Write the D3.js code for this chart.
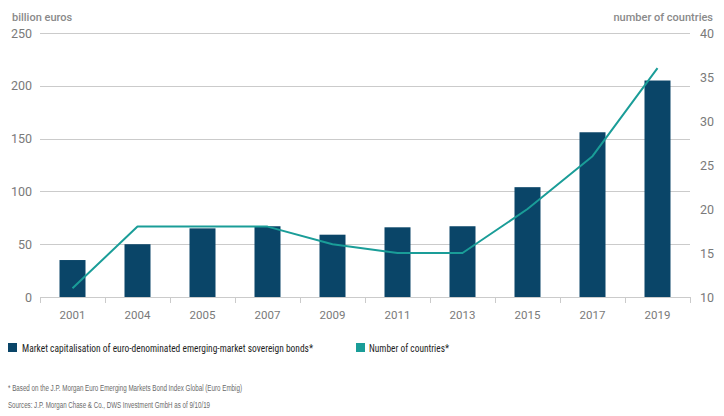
<!DOCTYPE html>
<html>
<head>
<meta charset="utf-8">
<script src="https://cdn.jsdelivr.net/npm/d3@7"></script>
<style>
  html, body { margin: 0; padding: 0; background: #fff; }
  svg { display: block; }
</style>
</head>
<body>
<svg id="chart" width="724" height="416"></svg>
<script>
const years = ["2001","2004","2005","2007","2009","2011","2013","2015","2017","2019"];
const marketCap = [35, 50, 65, 67, 59, 66, 67, 104, 156, 205];
const countries = [11, 18, 18, 18, 16, 15, 15, 20, 26, 36];
const leftTicks = [0, 50, 100, 150, 200, 250];
const rightTicks = [10, 15, 20, 25, 30, 35, 40];
const leftTitle = "billion euros";
const rightTitle = "number of countries";
const legendLabels = ["Market capitalisation of euro-denominated emerging-market sovereign bonds*", "Number of countries*"];
const footnotes = ["* Based on the J.P. Morgan Euro Emerging Markets Bond Index Global (Euro Embig)",
                   "Sources: J.P. Morgan Chase & Co., DWS Investment GmbH as of 9/10/19"];

(function () {
const barColor = "#0a4568";
const lineColor = "#1a9d98";
const gridColor = "#cbcbcb";
const labelColor = "#7a7a7a";
const font = "Roboto, 'Open Sans', sans-serif";

const svg = d3.select("#chart");
const plotLeft = 40, plotRight = 690, plotTop = 33, plotBottom = 297;

const x = d3.scaleBand().domain(years).range([plotLeft, plotRight]).paddingInner(0.6).paddingOuter(0.3);
const yL = d3.scaleLinear().domain([0, 250]).range([plotBottom, plotTop]);
const yR = d3.scaleLinear().domain([10, 40]).range([plotBottom, plotTop]);

// gridlines
svg.append("g").selectAll("line").data(leftTicks).join("line")
  .attr("x1", plotLeft).attr("x2", plotRight)
  .attr("y1", d => Math.round(yL(d)) + 0.5).attr("y2", d => Math.round(yL(d)) + 0.5)
  .attr("stroke", gridColor).attr("stroke-width", 1);

// left tick labels
svg.append("g").selectAll("text").data(leftTicks).join("text")
  .attr("x", 32).attr("y", d => yL(d)).attr("dy", "0.36em")
  .attr("text-anchor", "end").attr("fill", labelColor)
  .attr("font-family", font).attr("font-size", 12.5).text(d => d);

// right tick labels
svg.append("g").selectAll("text").data(rightTicks).join("text")
  .attr("x", 700).attr("y", d => yR(d)).attr("dy", "0.36em")
  .attr("text-anchor", "start").attr("fill", labelColor)
  .attr("font-family", font).attr("font-size", 12.5).text(d => d);

// x category boundary ticks
const gap = x.step() - x.bandwidth();
const bounds = years.map(d => x(d) - gap / 2).concat([x(years[years.length - 1]) + x.bandwidth() + gap / 2]);
svg.append("g").selectAll("line").data(bounds).join("line")
  .attr("x1", d => Math.round(d) + 0.5).attr("x2", d => Math.round(d) + 0.5)
  .attr("y1", plotBottom).attr("y2", plotBottom + 6)
  .attr("stroke", gridColor).attr("stroke-width", 1);

// x labels
svg.append("g").selectAll("text").data(years).join("text")
  .attr("x", d => x(d) + x.bandwidth() / 2).attr("y", 319)
  .attr("text-anchor", "middle").attr("fill", labelColor)
  .attr("font-family", font).attr("font-size", 11.5).text(d => d);

// bars
svg.append("g").selectAll("rect").data(years).join("rect")
  .attr("x", d => x(d)).attr("width", x.bandwidth())
  .attr("y", (d, i) => yL(marketCap[i]))
  .attr("height", (d, i) => yL(0) - yL(marketCap[i]))
  .attr("fill", barColor);

// line
const line = d3.line()
  .x((d, i) => x(years[i]) + x.bandwidth() / 2)
  .y(d => yR(d))
  .curve(d3.curveLinear);
svg.append("path").datum(countries)
  .attr("d", line).attr("fill", "none")
  .attr("stroke", lineColor).attr("stroke-width", 2)
  .attr("stroke-linejoin", "round");

// axis titles
svg.append("text").attr("x", 12).attr("y", 21)
  .attr("fill", "#8a8a8a").attr("font-family", font).attr("font-size", 11)
  .attr("font-weight", 500).text(leftTitle);
svg.append("text").attr("x", 713).attr("y", 21).attr("text-anchor", "end")
  .attr("fill", "#8a8a8a").attr("font-family", font).attr("font-size", 11)
  .attr("font-weight", 500).text(rightTitle);

// legend
const legendFont = "'Liberation Sans Narrow', 'Roboto Condensed', 'Liberation Sans', sans-serif";
const legendItems = [
  {label: legendLabels[0], color: barColor, sx: 8, tx: 22, len: 291},
  {label: legendLabels[1], color: lineColor, sx: 356, tx: 369, len: 80}
];
const lg = svg.append("g").selectAll("g").data(legendItems).join("g");
lg.append("rect").attr("x", d => d.sx).attr("y", 343).attr("width", 9).attr("height", 9)
  .attr("fill", d => d.color);
lg.append("text").attr("x", d => d.tx).attr("y", 352)
  .attr("fill", "#1e1e1e").attr("font-family", legendFont).attr("font-size", 11.5)
  .text(d => d.label)
  .each(function (d) {
    const natural = this.getComputedTextLength();
    const maxLen = d.len * 1.12;
    if (natural > maxLen) {
      d3.select(this).attr("font-size", 11.5 * maxLen / natural);
    }
  })
  .attr("textLength", d => d.len).attr("lengthAdjust", "spacingAndGlyphs");

// footnotes
const fnLens = [234, 202];
svg.append("g").selectAll("text").data(footnotes).join("text")
  .attr("x", 8).attr("y", (d, i) => 391 + i * 17)
  .attr("fill", "#6a6a6a").attr("font-family", "'Liberation Sans Narrow', 'Liberation Sans', Arial, sans-serif")
  .attr("font-size", 8.5)
  .attr("textLength", (d, i) => fnLens[i]).attr("lengthAdjust", "spacingAndGlyphs")
  .text(d => d);
})();
</script>
</body>
</html>
